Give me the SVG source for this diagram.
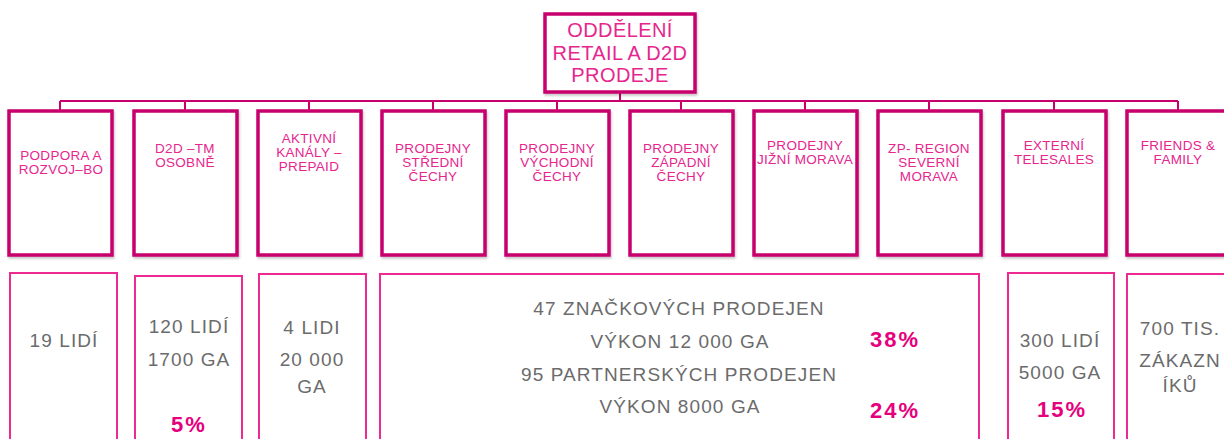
<svg xmlns="http://www.w3.org/2000/svg" width="1224" height="439" viewBox="0 0 1224 439">
<defs>
<filter id="sh" x="-10%" y="-10%" width="130%" height="130%">
<feDropShadow dx="1" dy="2" stdDeviation="1" flood-color="#000" flood-opacity="0.22"/>
</filter>
<style>
.org{fill:#fff;stroke:#c8006e;stroke-width:3.5;filter:url(#sh)}
.info{fill:#fff;stroke:#ee2a92;stroke-width:2}
.conn{fill:none;stroke:#c8006e;stroke-width:2}
.tl{font-family:"Liberation Sans",Arial,sans-serif;fill:#e6268e;text-anchor:middle}
.t1{font-size:20px;letter-spacing:0.4px}
.t2{font-size:13.5px;letter-spacing:0.3px}
.tg{font-family:"Liberation Sans",Arial,sans-serif;font-size:19px;letter-spacing:1.1px;fill:#6b6b6b;text-anchor:middle}
.tp{font-family:"Liberation Sans",Arial,sans-serif;font-size:22px;font-weight:bold;letter-spacing:2px;fill:#e6007e;text-anchor:middle}
</style>
</defs>
<rect width="1224" height="439" fill="#fff"/>
<g id="connectors">
<path class="conn" d="M620 93V101M60 101H1178M60 101V110M185 101V110M309 101V110M433 101V110M557 101V110M681 101V110M805 101V110M929 101V110M1054 101V110M1178 101V110"/>
</g>
<g id="root">
<rect class="org" x="545" y="14" width="150" height="78"/>
<text class="tl t1" x="620" y="37">ODDĚLENÍ</text>
<text class="tl t1" x="620" y="60">RETAIL A D2D</text>
<text class="tl t1" x="620" y="82">PRODEJE</text>
</g>
<g id="n1">
<rect class="org" x="9" y="111" width="103" height="144"/>
<text class="tl t2" x="61" y="160">PODPORA A</text>
<text class="tl t2" x="61" y="174">ROZVOJ–BO</text>
</g>
<g id="n2">
<rect class="org" x="134" y="111" width="103" height="144"/>
<text class="tl t2" x="185" y="153">D2D –TM</text>
<text class="tl t2" x="185" y="167">OSOBNĚ</text>
</g>
<g id="n3">
<rect class="org" x="258" y="111" width="103" height="144"/>
<text class="tl t2" x="309" y="143">AKTIVNÍ</text>
<text class="tl t2" x="309" y="157">KANÁLY –</text>
<text class="tl t2" x="309" y="171">PREPAID</text>
</g>
<g id="n4">
<rect class="org" x="382" y="111" width="103" height="144"/>
<text class="tl t2" x="433" y="153">PRODEJNY</text>
<text class="tl t2" x="433" y="167">STŘEDNÍ</text>
<text class="tl t2" x="433" y="181">ČECHY</text>
</g>
<g id="n5">
<rect class="org" x="506" y="111" width="103" height="144"/>
<text class="tl t2" x="557" y="153">PRODEJNY</text>
<text class="tl t2" x="557" y="167">VÝCHODNÍ</text>
<text class="tl t2" x="557" y="181">ČECHY</text>
</g>
<g id="n6">
<rect class="org" x="630" y="111" width="103" height="144"/>
<text class="tl t2" x="681" y="153">PRODEJNY</text>
<text class="tl t2" x="681" y="167">ZÁPADNÍ</text>
<text class="tl t2" x="681" y="181">ČECHY</text>
</g>
<g id="n7">
<rect class="org" x="754" y="111" width="103" height="144"/>
<text class="tl t2" x="805" y="150">PRODEJNY</text>
<text class="tl t2" x="805" y="164">JIŽNÍ MORAVA</text>
</g>
<g id="n8">
<rect class="org" x="878" y="111" width="103" height="144"/>
<text class="tl t2" x="929" y="153">ZP- REGION</text>
<text class="tl t2" x="929" y="167">SEVERNÍ</text>
<text class="tl t2" x="929" y="181">MORAVA</text>
</g>
<g id="n9">
<rect class="org" x="1003" y="111" width="103" height="144"/>
<text class="tl t2" x="1054" y="150">EXTERNÍ</text>
<text class="tl t2" x="1054" y="164">TELESALES</text>
</g>
<g id="n10">
<rect class="org" x="1127" y="111" width="103" height="144"/>
<text class="tl t2" x="1178" y="150">FRIENDS &amp;</text>
<text class="tl t2" x="1178" y="164">FAMILY</text>
</g>
<g id="i1">
<rect class="info" x="10" y="273" width="107" height="190"/>
<text class="tg" x="64" y="347">19 LIDÍ</text>
</g>
<g id="i2">
<rect class="info" x="135" y="276" width="107" height="190"/>
<text class="tg" x="189" y="333">120 LIDÍ</text>
<text class="tg" x="189" y="366">1700 GA</text>
<text class="tp" x="189" y="432">5%</text>
</g>
<g id="i3">
<rect class="info" x="259" y="274" width="107" height="190"/>
<text class="tg" x="312" y="334">4 LIDI</text>
<text class="tg" x="312" y="366">20 000</text>
<text class="tg" x="312" y="393">GA</text>
</g>
<g id="i4">
<rect class="info" x="380" y="274" width="599" height="190"/>
<text class="tg" x="679" y="315">47 ZNAČKOVÝCH PRODEJEN</text>
<text class="tg" x="680" y="348">VÝKON 12 000 GA</text>
<text class="tg" x="679" y="381">95 PARTNERSKÝCH PRODEJEN</text>
<text class="tg" x="680" y="413">VÝKON 8000 GA</text>
<text class="tp" x="895" y="347">38%</text>
<text class="tp" x="895" y="418">24%</text>
</g>
<g id="i5">
<rect class="info" x="1008" y="273" width="106" height="190"/>
<text class="tg" x="1060" y="347">300 LIDÍ</text>
<text class="tg" x="1060" y="379">5000 GA</text>
<text class="tp" x="1062" y="417">15%</text>
</g>
<g id="i6">
<rect class="info" x="1127" y="274" width="120" height="190"/>
<text class="tg" x="1180" y="335">700 TIS.</text>
<text class="tg" x="1180" y="367">ZÁKAZN</text>
<text class="tg" x="1180" y="392">ÍKŮ</text>
</g>
</svg>
